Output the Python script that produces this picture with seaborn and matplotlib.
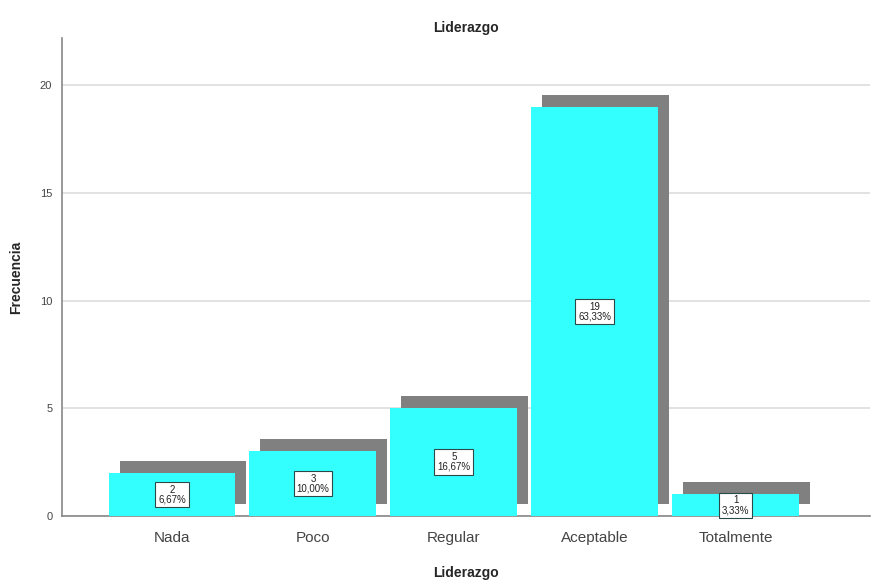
import matplotlib
matplotlib.use("Agg")
import matplotlib.pyplot as plt
import matplotlib.transforms as mtransforms
import pandas as pd
import seaborn as sns

categories = ["Nada", "Poco", "Regular", "Aceptable", "Totalmente"]
counts = [2, 3, 5, 19, 1]
percents = ["6,67%", "10,00%", "16,67%", "63,33%", "3,33%"]
y_ticks = [0, 5, 10, 15, 20]

df = pd.DataFrame({"Liderazgo": categories, "Frecuencia": counts})

sns.set_style("white")
plt.rcParams["font.family"] = ["Liberation Sans", "DejaVu Sans"]

fig = plt.figure(figsize=(8.76, 5.84), dpi=100)
ax = fig.add_axes([0.0708, 0.1164, 0.922, 0.8186])

# shadow bars, shifted up-right afterwards
sns.barplot(data=df, x="Liderazgo", y="Frecuencia", color="#808080",
            saturation=1, width=0.9, ax=ax, zorder=2)
shift = mtransforms.ScaledTranslation(11 / 100, 12 / 100, fig.dpi_scale_trans)
for p in ax.patches:
    p.set_transform(ax.transData + shift)
    p.set_linewidth(0)

sns.barplot(data=df, x="Liderazgo", y="Frecuencia", color="#33FFFF",
            saturation=1, width=0.9, ax=ax, zorder=3)
for p in ax.patches[len(categories):]:
    p.set_linewidth(0)

for i, (c, pct) in enumerate(zip(counts, percents)):
    ax.text(i, c / 2, f"{c}\n{pct}", ha="center", va="center", fontsize=7,
            color="#222222", linespacing=0.95, zorder=5,
            bbox=dict(boxstyle="square,pad=0.3", facecolor="white",
                      edgecolor="#2a4a4a", linewidth=0.8))

ax.set_xlim(-0.78, 4.95)
ax.set_ylim(0, 22.2)
ax.set_yticks(y_ticks)
ax.yaxis.grid(True, color="#dddddd", linewidth=1.2, zorder=0)
ax.set_axisbelow(True)

for side in ["top", "right"]:
    ax.spines[side].set_visible(False)
for side in ["left", "bottom"]:
    ax.spines[side].set_color("#888888")
    ax.spines[side].set_linewidth(1.2)

ax.tick_params(axis="y", labelsize=8, colors="#444444", length=0, pad=7)
ax.tick_params(axis="x", labelsize=11, colors="#444444", length=0, pad=11)

ax.set_title("Liderazgo", fontsize=10, fontweight="bold", pad=4)
ax.set_xlabel("Liderazgo", fontsize=10, fontweight="bold", labelpad=15)
ax.set_ylabel("Frecuencia", fontsize=10, fontweight="bold", labelpad=12)

fig.savefig("out.png", dpi=100)
plt.close(fig)
